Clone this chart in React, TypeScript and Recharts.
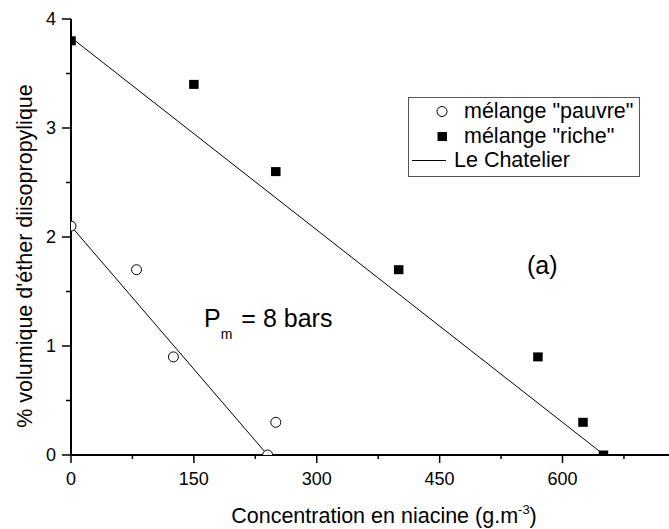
import { ScatterChart, Scatter, XAxis, YAxis } from 'recharts';

const pauvreX = [0, 80, 125, 240, 250];
const pauvreY = [2.1, 1.7, 0.9, 0, 0.3];
const richeX = [0, 150, 250, 400, 570, 625, 650];
const richeY = [3.8, 3.4, 2.6, 1.7, 0.9, 0.3, 0];
// Le Chatelier lines (end points)
const chatelierPauvreX = [0, 240];
const chatelierPauvreY = [2.1, 0];
const chatelierRicheX = [0, 651];
const chatelierRicheY = [3.83, 0];

const xTicks = [0, 75, 150, 225, 300, 375, 450, 525, 600, 675];
const yTicks = [0, 0.5, 1, 1.5, 2, 2.5, 3, 3.5, 4];

const legendItems = [
  { label: 'mélange "pauvre"', kind: 'circle' },
  { label: 'mélange "riche"', kind: 'square' },
  { label: 'Le Chatelier', kind: 'line' },
];

const FONT = '"Liberation Sans", Arial, sans-serif';

const toPoints = (xs: number[], ys: number[]) => xs.map((x, i) => ({ x, y: ys[i] }));

const XTick = (props: any) => {
  const { x, y, payload } = props;
  const major = payload.value % 150 === 0;
  return (
    <g>
      <line x1={x} x2={x} y1={y} y2={y + (major ? 8 : 4)} stroke="#000" strokeWidth={1.5} />
      {major && (
        <text x={x} y={y + 30} textAnchor="middle" fontSize={18} fontFamily={FONT} fill="#000">
          {payload.value}
        </text>
      )}
    </g>
  );
};

const YTick = (props: any) => {
  const { x, y, payload } = props;
  const major = Number.isInteger(payload.value);
  return (
    <g>
      <line x1={x - (major ? 9 : 5)} x2={x} y1={y} y2={y} stroke="#000" strokeWidth={1.5} />
      {major && (
        <text x={x - 15} y={y} dy="0.36em" textAnchor="end" fontSize={18} fontFamily={FONT} fill="#000">
          {payload.value}
        </text>
      )}
    </g>
  );
};

const OpenCircle = (p: any) => <circle cx={p.cx} cy={p.cy} r={5} fill="#fff" stroke="#000" strokeWidth={1} />;
const FilledSquare = (p: any) => <rect x={p.cx - 4.75} y={p.cy - 4.5} width={9.5} height={9} fill="#000" />;
const NoDot = () => <g />;

function ChartLegend() {
  return (
    <div
      style={{
        position: 'absolute',
        left: 408,
        top: 97,
        width: 232,
        height: 80,
        border: '1px solid #555',
        boxSizing: 'border-box',
        background: '#fff',
        fontFamily: FONT,
        fontSize: 21.5,
        color: '#000',
      }}
    >
      {legendItems.map((item, i) => (
        <div key={item.label} style={{ position: 'absolute', top: 1 + i * 24.5, left: 0, width: '100%', height: 25 }}>
          <svg width={50} height={25} style={{ position: 'absolute', left: 0, top: 0 }}>
            {item.kind === 'circle' && <circle cx={33} cy={12.5} r={5} fill="#fff" stroke="#000" />}
            {item.kind === 'square' && <rect x={28.5} y={8} width={9.5} height={9} fill="#000" />}
            {item.kind === 'line' && <line x1={3} x2={37} y1={12.5} y2={12.5} stroke="#000" />}
          </svg>
          <span
            style={{
              position: 'absolute',
              left: item.kind === 'line' ? 45 : 55,
              top: 0,
              lineHeight: '25px',
              whiteSpace: 'nowrap',
            }}
          >
            {item.label}
          </span>
        </div>
      ))}
    </div>
  );
}

export default function App() {
  return (
    <div style={{ position: 'relative', width: 669, height: 529, background: '#fff' }}>
      <style>{'body{margin:0}'}</style>
      <ScatterChart width={669} height={529} margin={{ top: 19, right: 0, left: 0, bottom: 0 }}>
        <XAxis
          type="number"
          dataKey="x"
          domain={[0, 730]}
          ticks={xTicks}
          allowDataOverflow
          height={74}
          tickSize={0}
          tickMargin={0}
          tickLine={false}
          tick={<XTick />}
          axisLine={{ stroke: '#000', strokeWidth: 2 }}
        />
        <YAxis
          type="number"
          dataKey="y"
          domain={[0, 4]}
          ticks={yTicks}
          allowDataOverflow
          width={71}
          tickSize={0}
          tickMargin={0}
          tickLine={false}
          tick={<YTick />}
          axisLine={{ stroke: '#000', strokeWidth: 2 }}
        />
        <Scatter
          data={toPoints(chatelierRicheX, chatelierRicheY)}
          line={{ stroke: '#000', strokeWidth: 1 }}
          shape={<NoDot />}
          isAnimationActive={false}
        />
        <Scatter
          data={toPoints(chatelierPauvreX, chatelierPauvreY)}
          line={{ stroke: '#000', strokeWidth: 1 }}
          shape={<NoDot />}
          isAnimationActive={false}
        />
        <Scatter data={toPoints(pauvreX, pauvreY)} shape={<OpenCircle />} isAnimationActive={false} />
        <Scatter data={toPoints(richeX, richeY)} shape={<FilledSquare />} isAnimationActive={false} />
        <text x={204} y={327} fontSize={25} fontFamily={FONT} fill="#000">
          P
          <tspan fontSize={14} dy={12}>m</tspan>
          <tspan dy={-12} dx={9}>= 8 bars</tspan>
        </text>
        <text x={527} y={274} fontSize={25} fontFamily={FONT} fill="#000">
          (a)
        </text>
        <text x={384} y={523} textAnchor="middle" fontSize={21.5} fontFamily={FONT} fill="#000">
          Concentration en niacine (g.m
          <tspan fontSize={13} dy={-9}>-3</tspan>
          <tspan dy={9}>)</tspan>
        </text>
        <text
          x={0}
          y={0}
          transform="translate(32, 256) rotate(-90)"
          textAnchor="middle"
          fontSize={21.5}
          fontFamily={FONT}
          fill="#000"
        >
          % volumique d'éther diisopropylique
        </text>
      </ScatterChart>
      <ChartLegend />
    </div>
  );
}
